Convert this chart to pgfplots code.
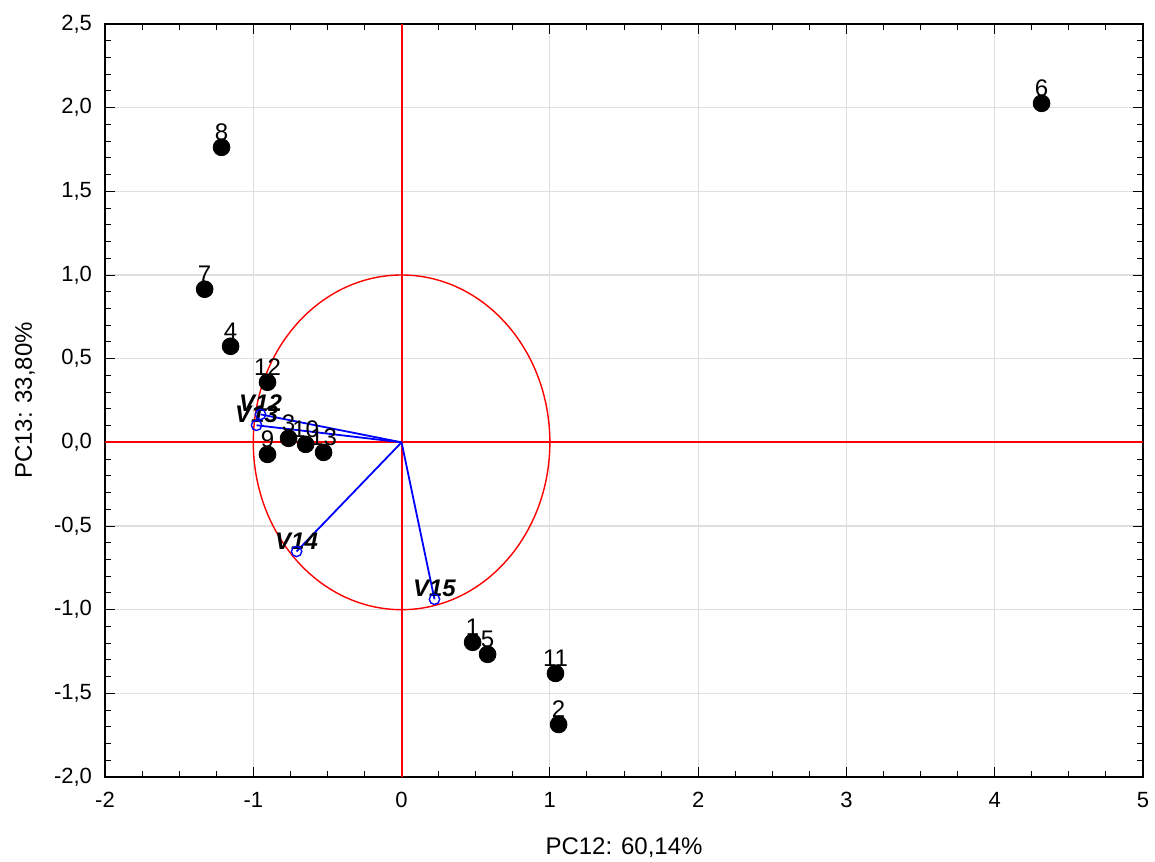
\documentclass[border=0pt]{standalone}
\usepackage{fontspec}
\setmainfont{Liberation Sans}
\usepackage{pgfplots}
\pgfplotsset{compat=1.18}
\usepackage{pgfplotstable}
\pgfplotstableread{
x y lab
-1.328 0.915 7
-1.214 1.763 8
-1.153 0.574 4
-0.904 0.359 12
-0.762 0.024 3
-0.647 -0.012 10
-0.526 -0.060 13
-0.904 -0.072 9
0.479 -1.195 1
0.580 -1.267 5
1.038 -1.381 11
1.059 -1.686 2
4.316 2.026 6
}\cases
\begin{document}
\begin{tikzpicture}
\begin{axis}[
  name=ax,
  scale only axis,
  width=519pt, height=376.5pt,
  xmin=-2, xmax=5, ymin=-2, ymax=2.5,
  xtick={-2,-1,0,1,2,3,4,5},
  ytick={-2,-1.5,-1,-0.5,0,0.5,1,1.5,2,2.5},
  yticklabels={{-2,0},{-1,5},{-1,0},{-0,5},{0,0},{0,5},{1,0},{1,5},{2,0},{2,5}},
  xticklabels={-2,-1,0,1,2,3,4,5},
  minor x tick num=3, minor y tick num=4,
  tick align=inside,
  major tick length=5pt, minor tick length=3pt,
  grid=major,
  major grid style={gray!25, line width=0.6pt},
  axis line style={black, line width=0.8pt},
  tick style={black, line width=0.5pt},
  ticklabel style={font=\fontsize{11}{13}\selectfont},
  xticklabel style={yshift=-4pt},
  yticklabel style={xshift=-3pt},
  xlabel={PC12: 60,14\%},
  ylabel={PC13: 33,80\%},
  label style={font=\fontsize{12}{14}\selectfont},
  xlabel style={at={(axis description cs:0.5,-0.0943)}, anchor=center},
  ylabel style={at={(axis description cs:-0.0771,0.5)}, anchor=center},
  clip=false,
]
% red axes lines
\draw[red, line width=1pt] (axis cs:0,-2) -- (axis cs:0,2.5);
\draw[red, line width=1pt] (axis cs:-2,0) -- (axis cs:5,0);
% unit circle
\draw[red, line width=0.7pt] (axis cs:0,0) ellipse [x radius=1, y radius=1];
% vectors
\addplot[blue, line width=0.9pt, mark=o, mark size=2.6pt, mark indices={2}, mark options={line width=0.7pt}] coordinates {(0,0) (-0.951,0.167)};
\addplot[blue, line width=0.9pt, mark=o, mark size=2.6pt, mark indices={2}, mark options={line width=0.7pt}] coordinates {(0,0) (-0.978,0.102)};
\addplot[blue, line width=0.9pt, mark=o, mark size=2.6pt, mark indices={2}, mark options={line width=0.7pt}] coordinates {(0,0) (-0.708,-0.652)};
\addplot[blue, line width=0.9pt, mark=o, mark size=2.6pt, mark indices={2}, mark options={line width=0.7pt}] coordinates {(0,0) (0.222,-0.938)};
\node[font=\fontsize{12}{14}\selectfont\bfseries\itshape, anchor=south, inner sep=1pt] at (axis cs:-0.951,0.167) {V12};
\node[font=\fontsize{12}{14}\selectfont\bfseries\itshape, anchor=south, inner sep=1pt] at (axis cs:-0.978,0.102) {V13};
\node[font=\fontsize{12}{14}\selectfont\bfseries\itshape, anchor=south, inner sep=1pt] at (axis cs:-0.708,-0.652) {V14};
\node[font=\fontsize{12}{14}\selectfont\bfseries\itshape, anchor=south, inner sep=1pt] at (axis cs:0.222,-0.938) {V15};
% cases
\addplot[only marks, mark=*, mark size=4.2pt, black,
  nodes near coords, point meta=explicit symbolic,
  every node near coord/.style={font=\fontsize{12}{14}\selectfont, anchor=south, yshift=0pt}]
  table[x=x, y=y, meta=lab] {\cases};
\end{axis}
\pgfresetboundingbox
\path ([shift={(-52.5pt,-42pt)}]ax.south west) rectangle ([shift={(6pt,12pt)}]ax.north east);
\end{tikzpicture}
\end{document}
